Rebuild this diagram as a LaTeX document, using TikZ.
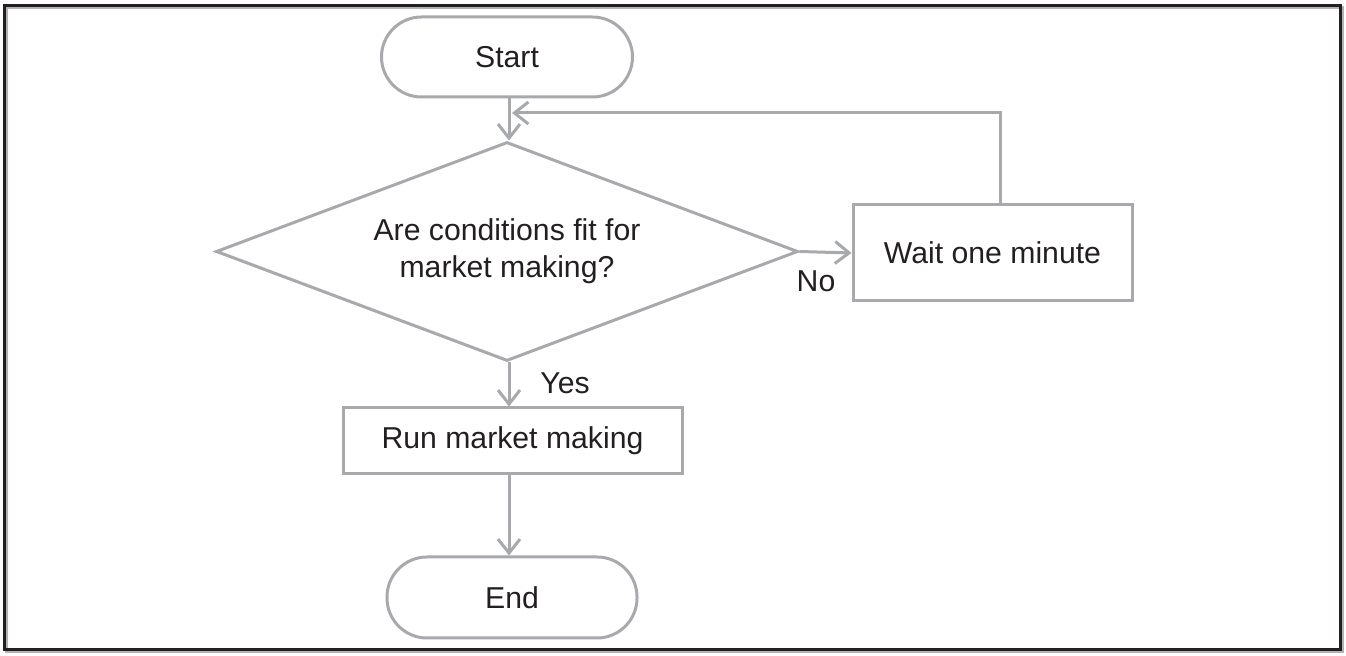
\documentclass[tikz,border=0pt]{standalone}
\usepackage{fontspec}
\setmainfont{Liberation Sans}
\usetikzlibrary{shapes.geometric,arrows.meta,calc}
\definecolor{linegray}{HTML}{A7A9AC}
\definecolor{txt}{HTML}{231F20}
\begin{document}
\begin{tikzpicture}[x=0.5pt,y=-0.5pt,
  every node/.style={font=\fontsize{15.1pt}{18.5pt}\selectfont, text=txt},
  box/.style={draw=linegray, line width=1.5pt, rectangle, inner sep=0pt},
  term/.style={box, rounded corners=20pt},
  dec/.style={draw=linegray, line width=1.5pt, diamond, shape aspect=2.657, inner sep=0pt, align=center},
  arr/.style={draw=linegray, line width=1.5pt, -{Straight Barb[length=7pt,width=11pt,line width=1.5pt]}},
  lbl/.style={inner sep=0pt}]
\useasboundingbox (0,0) rectangle (1346,656);
\draw[gray!60, line width=1.5pt] (6,8) rectangle (1342,652);
\draw[txt, line width=1.5pt] (4,6) rectangle (1340,650);

\node[term, minimum width=125.5pt, minimum height=40pt] (start) at (507,57) {Start};
\node[dec, minimum width=291pt, minimum height=109.5pt] (dia) at (507,251.5) {Are conditions fit for\\market making?};
\node[box, minimum width=139.5pt, minimum height=48pt] (wait) at (992.5,253) {Wait one minute};
\node[box, minimum width=169.5pt, minimum height=33pt] (run) at (512.5,441) {Run market making};
\node[term, minimum width=125pt, minimum height=40.5pt] (end) at (512,597.5) {End};

\node[lbl] (no) at (816,281) {No};
\node[lbl] (yes) at (565,383) {Yes};

\coordinate (fb) at (1000,113);
\coordinate (vx) at (509,0);

\draw[arr] (start.south -| vx) -- (dia.north -| vx);
\draw[arr] (dia.east) -- (wait.west);
\draw[arr] (wait.north -| fb) -- (fb) -- ($(fb -| vx)+(3,0)$);
\draw[arr] (dia.south -| vx) -- (run.north -| vx);
\draw[arr] (run.south -| vx) -- (end.north -| vx);
\end{tikzpicture}
\end{document}
